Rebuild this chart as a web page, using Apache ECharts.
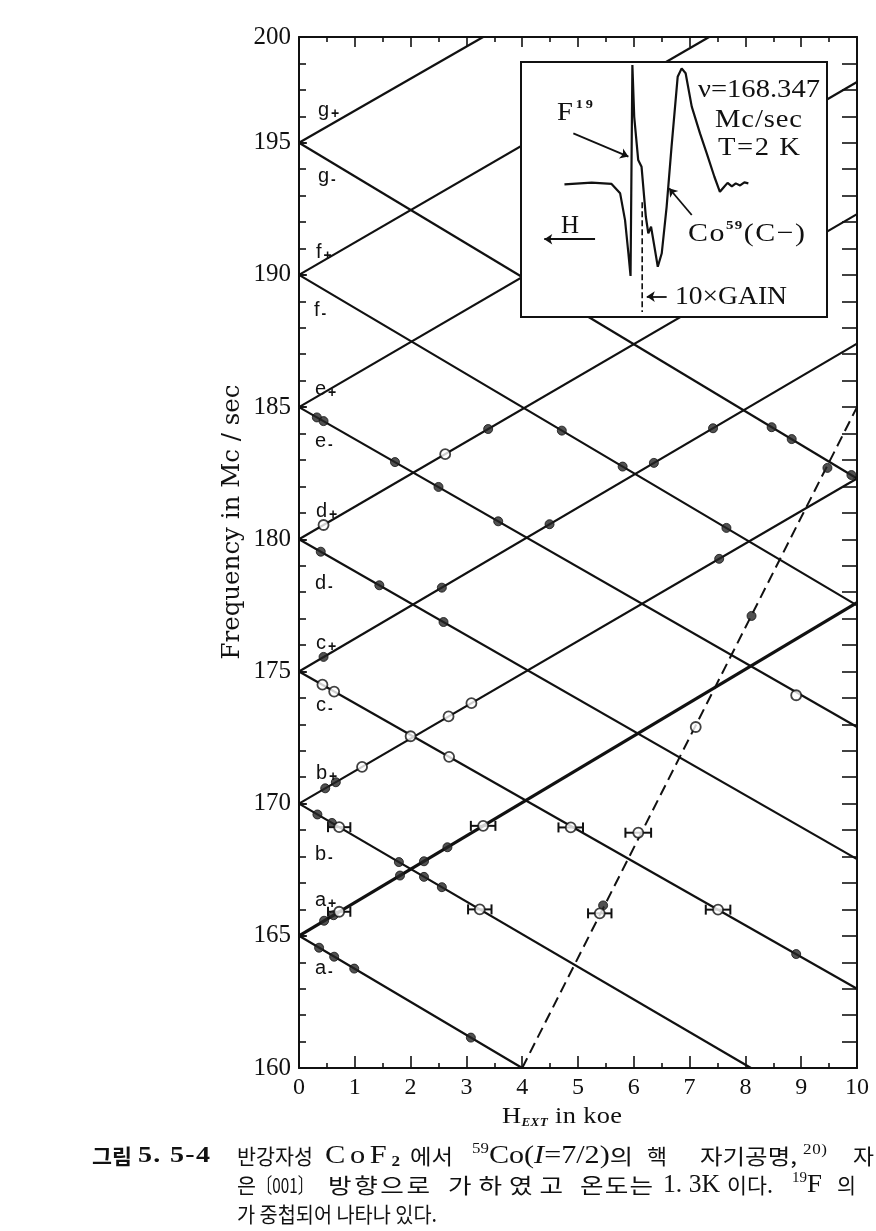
<!DOCTYPE html>
<html><head><meta charset="utf-8">
<script src="https://cdn.jsdelivr.net/npm/echarts@6/dist/echarts.min.js"></script>
<style>html,body{margin:0;padding:0;background:#fff}#c{width:876px;height:1231px}</style>
</head><body><div id="c"></div>
<script>
// ---------- data ----------
const xTickLabels = ['0','1','2','3','4','5','6','7','8','9','10'];
const yTickLabels = ['160','165','170','175','180','185','190','195','200'];

// Co59 level lines (start, end) in (H koe, MHz)
const levelNames = ['a+','a-','b+','b-','c+','c-','d+','d-','e+','e-','f+','f-','g+','g-'];
const levelStart = [[0,165],[0,165],[0,170],[0,170],[0,175],[0,175],[0,180],[0,180],[0,185],[0,185],[0,190],[0,190],[0,195],[0,195]];
const levelEnd   = [[10,177.6],[4.0,160],[10,182.3],[8.1,160],[10,187.4],[10,163.0],[10,192.3],[10,167.9],[10,197.3],[10,172.9],[7.35,199],[10,177.5],[3.3,199],[10,182.3]];

// F19 line (dashed)
const f19Line = [[4,160],[10,185]];

// measured points
const filledPts = [
  [0.32,184.61],[0.44,184.47],[1.72,182.92],[2.5,181.98],[3.57,180.68],
  [3.39,184.17],
  [0.39,179.53],[1.44,178.26],[2.59,176.87],
  [0.44,175.55],[2.56,178.17],[4.49,180.57],[6.36,182.89],[7.42,184.2],
  [8.91,164.31],
  [0.47,170.58],[0.66,170.81],[7.53,179.26],
  [0.33,169.59],[0.59,169.27],[1.79,167.79],[2.24,167.23],[2.56,166.84],
  [0.45,165.57],[0.62,165.78],[1.81,167.28],[2.24,167.82],[2.66,168.35],
  [0.36,164.55],[0.63,164.21],[0.99,163.76],[3.08,161.15],
  [4.71,184.11],[5.8,182.75],[7.66,180.43],
  [8.47,184.24],[8.83,183.79],[9.9,182.43],
  [5.45,166.15],[8.11,177.1],[9.47,182.7]
];
const openPts = [
  [0.44,180.54],[2.62,183.22],
  [0.42,174.5],[0.63,174.24],[2.0,172.55],[2.69,171.77],[4.87,169.1],[7.51,165.99],
  [1.13,171.39],[2.68,173.3],[3.09,173.8],
  [0.72,169.11],[3.24,166.0],
  [0.72,165.91],[3.3,169.16],
  [8.91,174.1],
  [5.39,165.85],[6.08,168.9],[7.11,172.9]
];
// horizontal error bars: x, y, half-width (koe)
const errorBars = [
  [0.72,169.11,0.2],[3.3,169.16,0.22],[0.72,165.91,0.2],[3.24,166.0,0.21],
  [4.87,169.1,0.22],[6.08,168.9,0.23],[5.39,165.85,0.21],[7.51,165.99,0.22]
];

// inset NMR trace (arbitrary units: field 0-100, signal 0-100)
const traceX = [14.2,23.1,29.6,32.4,34.0,35.1,35.8,36.4,37.0,38.3,39.4,40.8,41.6,42.5,43.6,44.7,46.0,47.6,49.2,51.2,52.5,53.8,55.8,58.5,60.7,63.2,65.0,66.4,67.5,68.9,70.2,71.6,73.0,74.3];
const traceY = [52.0,52.7,52.2,48.5,38.0,24.9,16.1,98.8,78.5,61.6,58.9,39.3,32.8,35.4,27.6,19.7,25.0,43.3,66.8,94.2,97.5,95.6,82.5,72.0,64.2,55.0,49.1,51.1,52.6,51.2,52.4,51.6,52.8,52.4];
const gainMarker = [[39.6,45],[39.6,2]];
const insetArrows = [
  [[17.1,72.0],[35.1,62.9]],   // F19
  [[55.8,40.0],[48.4,50.5]],   // Co59
  [[24.2,30.5],[7.6,30.5]],    // H
  [[47.6,8.0],[41.1,8.0]]      // 10xGAIN
];

// ---------- chart ----------
const INK = '#111';
const SERIF = 'Liberation Serif';
const KR = 'Noto Sans CJK KR';
const chart = echarts.init(document.getElementById('c'), null, {renderer:'canvas'});

const series = [];
levelNames.forEach((n,i)=>{
  series.push({type:'line', name:n, xAxisIndex:0, yAxisIndex:0,
    data:[levelStart[i], levelEnd[i]], symbol:'none', clip:true, z:2,
    lineStyle:{color:INK, width: n==='a+' ? 3.2 : 2.2}});
});
series.push({type:'line', name:'nu19', xAxisIndex:0, yAxisIndex:0, data:f19Line, symbol:'none', clip:true, z:2,
  lineStyle:{color:INK, width:2, type:[11,6]}});
series.push({type:'custom', name:'err', xAxisIndex:0, yAxisIndex:0, data:errorBars, z:3,
  encode:{x:0, y:1},
  renderItem:function(params, api){
    const x=api.value(0), y=api.value(1), h=api.value(2);
    const p1=api.coord([x-h,y]), p2=api.coord([x+h,y]);
    const c=5, st={stroke:INK, lineWidth:2};
    return {type:'group', children:[
      {type:'line', shape:{x1:p1[0],y1:p1[1],x2:p2[0],y2:p2[1]}, style:st},
      {type:'line', shape:{x1:p1[0],y1:p1[1]-c,x2:p1[0],y2:p1[1]+c}, style:st},
      {type:'line', shape:{x1:p2[0],y1:p2[1]-c,x2:p2[0],y2:p2[1]+c}, style:st}
    ]};
  }});
series.push({type:'scatter', name:'filled', xAxisIndex:0, yAxisIndex:0, data:filledPts, symbol:'circle', symbolSize:9, z:4,
  itemStyle:{color:'#262626', borderColor:INK, borderWidth:1}});
series.push({type:'scatter', name:'open', xAxisIndex:0, yAxisIndex:0, data:openPts, symbol:'circle', symbolSize:10, z:4,
  itemStyle:{color:'#fff', borderColor:INK, borderWidth:1.8}});
// inset
series.push({type:'line', name:'trace', xAxisIndex:2, yAxisIndex:3, data:traceX.map((x,i)=>[x,traceY[i]]), symbol:'none', z:6,
  lineStyle:{color:INK, width:2.2}});
series.push({type:'line', name:'gain', xAxisIndex:2, yAxisIndex:3, data:gainMarker, symbol:'none', z:6,
  lineStyle:{color:INK, width:1.6, type:[6,3]}});
series.push({type:'lines', name:'arrows', coordinateSystem:'cartesian2d', xAxisIndex:2, yAxisIndex:3, z:6,
  symbol:['none','arrow'], symbolSize:8,
  data: insetArrows.map(c=>({coords:c})), lineStyle:{color:INK, width:1.8, opacity:1}});

// ---------- text helpers (layout only) ----------
const mctx = document.createElement('canvas').getContext('2d');
function measure(t,f){ mctx.font=f; return mctx.measureText(t).width; }
// place a run of text parts so that it spans [x0, x1]: slight widening, then letter spacing
function fit(x0, x1, y, parts, maxScale){
  maxScale = maxScale || 1.1;
  const chars = [];
  parts.forEach(p=>{ Array.from(p[0]).forEach(ch=>chars.push({t:ch, f:p[1], dy:p[2]||0, w:measure(ch,p[1])})); });
  const W = chars.reduce((a,c)=>a+c.w,0);
  const T = x1-x0;
  const s = Math.min(maxScale, T/W);
  const gap = chars.length>1 ? (T - s*W)/(chars.length-1) : 0;
  let cx = x0; const out=[];
  chars.forEach(c=>{
    if (c.t !== ' ') out.push({type:'text', x:cx, y:y+c.dy, scaleX:s, z:100,
      style:{text:c.t, font:c.f, fill:INK, textAlign:'left', textVerticalAlign:'middle'}});
    cx += c.w*s + gap;
  });
  return out;
}
function lvl(x,y,letter,sign){
  return {type:'text', x:x, y:y, z:100, style:{text:'{m|'+letter+'}{s|'+sign+'}', textVerticalAlign:'middle',
    rich:{m:{font:'20px Liberation Sans', fill:INK}, s:{font:'bold 14px Liberation Sans', fill:INK, padding:[8,0,0,2]}}}};
}
const S = px => px+'px '+SERIF, K = px => px+'px '+KR;
const CS = 1.22; // caption max widening

let graphic = [
  lvl(318,110,'g','+'), lvl(318,176,'g','-'), lvl(316,252,'f','+'), lvl(314,310,'f','-'),
  lvl(315,389,'e','+'), lvl(315,441,'e','-'), lvl(316,511,'d','+'), lvl(315,583,'d','-'),
  lvl(316,643,'c','+'), lvl(316,705,'c','-'), lvl(316,773,'b','+'), lvl(315,854,'b','-'),
  lvl(315,900,'a','+'), lvl(315,968,'a','-'),
  {type:'text', x:233, y:522, rotation:Math.PI/2, z:100,
    style:{text:'Frequency in Mc / sec', font:'24.5px DejaVu Serif', fill:INK, textAlign:'center', textVerticalAlign:'middle'}}
];
graphic = graphic.concat(
  fit(502,622,1117,[['H',S(24)],['EXT','italic bold 12px '+SERIF,6],[' in koe',S(24)]]),
  // inset texts
  fit(557,593,113,[['F',S(26)],['19','bold 13px '+SERIF,-8]]),
  fit(698,820,90,[['ν=168.347',S(26)]]),
  fit(715,802,120,[['Mc/sec',S(26)]]),
  fit(718,800,148,[['T=2 K',S(26)]]),
  fit(561,579,226,[['H',S(26)]]),
  fit(688,805,234,[['Co',S(26)],['59','bold 13px '+SERIF,-8],['(C−)',S(26)]],1.15),
  fit(675,787,297,[['10×GAIN',S(26)]]),
  // caption line 1
  fit(92,132,1156,[['그림','bold '+K(21)]]),
  fit(138,210,1156,[['5. 5-4','bold '+S(23)]],CS),
  fit(237,313,1156,[['반강자성',K(21)]],CS),
  fit(325,400,1156,[['CoF',S(25)],['2','bold 14px '+SERIF,6]],CS),
  fit(410,453,1156,[['에서',K(21)]],CS),
  fit(472,633,1156,[['59',S(14),-7],['Co(',S(25)],['I','italic 25px '+SERIF],['=7/2)',S(25)],['의',K(21)]],CS),
  fit(647,667,1156,[['핵',K(21)]],CS),
  fit(700,797,1156,[['자기공명,',K(21)]],CS),
  fit(803,827,1150,[['20)',S(14)]],CS),
  fit(853,874,1156,[['자',K(21)]],CS),
  // caption line 2
  fit(237,256,1185,[['은',K(21)]],CS),
  fit(257,313,1185,[['〔001〕',K(21)]],CS),
  fit(328,430,1185,[['방향으로',K(21)]],CS),
  fit(448,563,1185,[['가하였고',K(21)]],CS),
  fit(580,653,1185,[['온도는',K(21)]],CS),
  fit(663,720,1185,[['1. 3K',S(25)]],CS),
  fit(727,773,1185,[['이다.',K(21)]],CS),
  fit(792,822,1185,[['19',S(14),-7],['F',S(25)]],CS),
  fit(837,856,1185,[['의',K(21)]],CS),
  // caption line 3
  fit(237,437,1214,[['가 중첩되어 나타나 있다.',K(21)]],CS)
);

const axisLineStyle = {color:INK, width:2};
const tickStyle = {color:INK, width:1.6};
const option = {
  backgroundColor:'#fff',
  animation:false,
  grid:[
    {left:299, top:37, width:558, height:1031, outerBoundsMode:'none'},
    {left:521, top:62, width:306, height:255, show:true, backgroundColor:'#fff', borderColor:INK, borderWidth:2, z:5, outerBoundsMode:'none'}
  ],
  xAxis:[
    {type:'value', gridIndex:0, min:0, max:10, interval:1, position:'bottom',
      axisLine:{show:true, onZero:false, lineStyle:axisLineStyle},
      axisTick:{show:true, inside:true, length:12, lineStyle:tickStyle},
      minorTick:{show:true, splitNumber:2, length:5, lineStyle:tickStyle},
      axisLabel:{color:INK, fontFamily:SERIF, fontSize:24, margin:8, formatter:(v,i)=>xTickLabels[i]},
      splitLine:{show:false}, minorSplitLine:{show:false}},
    {type:'value', gridIndex:0, min:0, max:10, interval:1, position:'top',
      axisLine:{show:true, onZero:false, lineStyle:axisLineStyle},
      axisTick:{show:true, inside:true, length:10, lineStyle:tickStyle},
      minorTick:{show:true, splitNumber:2, length:5, lineStyle:tickStyle},
      axisLabel:{show:false}, splitLine:{show:false}},
    {type:'value', gridIndex:1, min:0, max:100, show:false}
  ],
  yAxis:[
    {type:'value', gridIndex:0, min:160, max:199, interval:5, position:'left',
      axisLine:{show:true, onZero:false, lineStyle:axisLineStyle},
      axisTick:{show:true, inside:true, length:8, lineStyle:tickStyle},
      axisLabel:{color:INK, fontFamily:SERIF, fontSize:25, margin:8, formatter:(v,i)=>yTickLabels[i]},
      splitLine:{show:false}},
    {type:'value', gridIndex:0, min:160, max:199, interval:1, position:'left',
      axisLine:{show:false}, axisTick:{show:true, inside:true, length:7, lineStyle:tickStyle},
      axisLabel:{show:false}, splitLine:{show:false}},
    {type:'value', gridIndex:0, min:160, max:199, interval:1, position:'right',
      axisLine:{show:true, onZero:false, lineStyle:axisLineStyle},
      axisTick:{show:true, inside:true, length:15, lineStyle:tickStyle},
      axisLabel:{show:false}, splitLine:{show:false}},
    {type:'value', gridIndex:1, min:0, max:100, show:false}
  ],
  series: series,
  graphic: graphic
};
chart.setOption(option);
</script></body></html>
